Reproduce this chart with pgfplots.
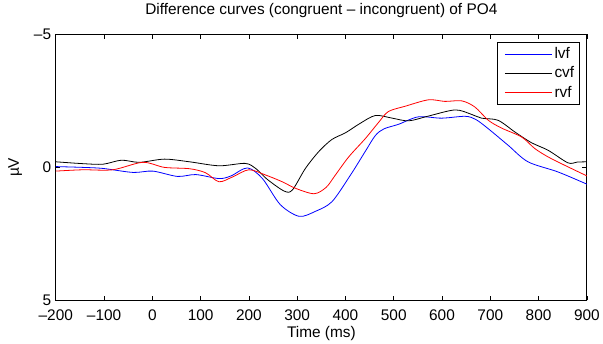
\documentclass[border=0pt]{standalone}
\usepackage{fontspec}
\setmainfont{Liberation Sans}
\usepackage{pgfplots}
\pgfplotsset{compat=1.18}
\definecolor{mblue}{RGB}{0,0,255}
\definecolor{mred}{RGB}{255,0,0}
\begin{document}
\begin{tikzpicture}[x=1bp,y=1bp]
\begin{axis}[
  scale only axis, width=533bp, height=267bp,
  at={(0,0)}, anchor=south west,
  xmin=-200, xmax=900, ymin=-5, ymax=5, y dir=reverse,
  xtick={-200,-100,...,900},
  xticklabels={–200,–100,0,100,200,300,400,500,600,700,800,900},
  ytick={-5,0,5}, yticklabels={–5,0,5},
  tick align=inside, major tick length=4.5bp,
  tick style={black, line width=0.6bp},
  axis line style={black, line width=0.8bp},
  every tick label/.append style={font=\fontsize{15.5}{17}\selectfont},
  xticklabel style={anchor=base, yshift=-20bp},
  yticklabel style={anchor=east, inner sep=0bp, xshift=-4.5bp},
  label style={font=\fontsize{15.5}{17}\selectfont},
  title style={font=\fontsize{15.5}{17}\selectfont, at={(0.5,1)}, anchor=base, yshift=14bp},
  title={Difference curves (congruent – incongruent) of PO4},
  xlabel={Time (ms)}, ylabel={µV},
  xlabel style={at={(0.5,0)}, anchor=base, yshift=-37bp},
  ylabel style={at={(axis description cs:-0.0694,0.5)}, anchor=base},
  legend style={at={(1,1)}, anchor=north east, xshift=-7.3bp, yshift=-7.3bp,
    draw=black, line width=0.8bp, font=\fontsize{15.5}{17}\selectfont,
    inner xsep=2.5bp, inner ysep=2.5bp, row sep=0bp,
    nodes={inner xsep=2.5bp, inner ysep=0bp, text height=14.2bp, text depth=5.1bp}},
  legend cell align=left,
  legend image code/.code={\path (-5bp,0bp);
    \draw[#1, line width=0.8bp] (0bp,0bp) -- (47bp,0bp);},
  every axis plot/.append style={line width=0.8bp, smooth, tension=0.5},
]
\addplot[color=mblue, forget plot] coordinates {
(-200,-0.03) (-144,0.0) (-102,0.04) (-40,0.19) (1,0.14) (52,0.34) (90,0.27)
(138,0.42) (163,0.32) (197,0.02) (228,0.42) (265,1.4) (304,1.84) (338,1.65)
(372,1.29) (410,0.3) (441,-0.6) (462,-1.2) (480,-1.45) (510,-1.62) (551,-1.9)
(599,-1.85) (648,-1.92) (670,-1.8) (696,-1.45) (737,-0.83) (778,-0.21)
(840,0.17) (900,0.63)};
\addplot[color=black, forget plot] coordinates {
(-200,-0.21) (-144,-0.14) (-102,-0.12) (-64,-0.27) (-27,-0.19) (25,-0.31)
(77,-0.21) (138,-0.06) (192,-0.15) (214,0.04) (238,0.45) (273,0.89) (290,0.85)
(317,0.04) (345,-0.6) (372,-1.05) (400,-1.3) (430,-1.65) (462,-1.95)
(497,-1.85) (531,-1.75) (572,-1.93) (627,-2.16) (660,-2.0) (682,-1.85)
(716,-1.77) (751,-1.33) (785,-0.93) (820,-0.64) (861,-0.17) (880,-0.2) (900,-0.21)};
\addplot[color=mred, forget plot] coordinates {
(-200,0.14) (-144,0.09) (-82,0.09) (-20,-0.19) (25,0.0) (77,0.05) (110,0.2)
(138,0.54) (166,0.36) (200,0.09) (235,0.29) (269,0.54) (297,0.79) (335,0.99)
(360,0.75) (379,0.29) (407,-0.4) (441,-1.08) (469,-1.7) (489,-2.1) (524,-2.3)
(572,-2.54) (606,-2.48) (641,-2.5) (668,-2.27) (696,-1.77) (723,-1.48)
(765,-1.14) (792,-0.71) (820,-0.39) (854,-0.08) (900,0.32)};
\addlegendimage{draw=mblue, color=mblue}
\addlegendentry{lvf}
\addlegendimage{draw=black, color=black}
\addlegendentry{cvf}
\addlegendimage{draw=mred, color=mred}
\addlegendentry{rvf}
\end{axis}
\path (-56bp,-42bp) rectangle (547bp,299bp);
\end{tikzpicture}
\end{document}
